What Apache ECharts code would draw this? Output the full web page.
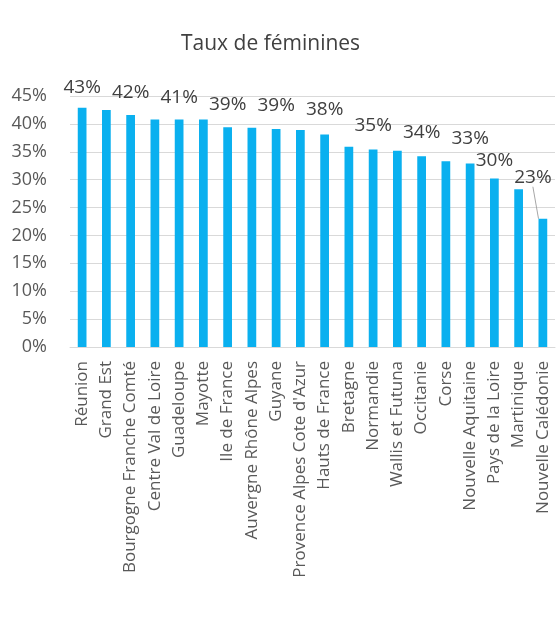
<!DOCTYPE html>
<html>
<head>
<meta charset="utf-8">
<script src="https://cdn.jsdelivr.net/npm/echarts@6/dist/echarts.min.js"></script>
<style>
  html, body { margin: 0; padding: 0; background: #fff; }
  #chart { width: 558px; height: 622px; }
</style>
</head>
<body>
<div id="chart"></div>
<script>
var regions = [
    "Réunion", "Grand Est", "Bourgogne Franche Comté", "Centre Val de Loire",
    "Guadeloupe", "Mayotte", "Ile de France", "Auvergne Rhône Alpes", "Guyane",
    "Provence Alpes Cote d'Azur", "Hauts de France", "Bretagne", "Normandie",
    "Wallis et Futuna", "Occitanie", "Corse", "Nouvelle Aquitaine",
    "Pays de la Loire", "Martinique", "Nouvelle Calédonie"
];
var tauxFeminines = [
    0.429, 0.425, 0.416, 0.408, 0.408, 0.408, 0.394, 0.393, 0.391, 0.389,
    0.381, 0.359, 0.354, 0.352, 0.342, 0.333, 0.329, 0.302, 0.283, 0.230
];
var yTicks = [0, 0.05, 0.10, 0.15, 0.20, 0.25, 0.30, 0.35, 0.40, 0.45];
// only some bars carry a value label in the original
var labelled = [
    "Réunion", "Bourgogne Franche Comté", "Guadeloupe", "Ile de France",
    "Guyane", "Hauts de France", "Normandie", "Occitanie", "Nouvelle Aquitaine",
    "Pays de la Loire", "Nouvelle Calédonie"
];

// label nudges (layout only)
var nudge = {
    "Réunion": [0, -7], "Bourgogne Franche Comté": [0, -9], "Guadeloupe": [0, -8],
    "Ile de France": [0, -9], "Guyane": [0, -10], "Hauts de France": [0, -11],
    "Normandie": [0, -10], "Occitanie": [0, -10], "Nouvelle Aquitaine": [0, -11],
    "Pays de la Loire": [0, -4], "Nouvelle Calédonie": [-10, -28]
};

var barData = tauxFeminines.map(function(v, i) {
    var name = regions[i];
    var item = { value: v };
    if (labelled.indexOf(name) < 0) {
        item.label = { show: false };
    } else if (name === "Nouvelle Calédonie") {
        item.labelLine = { show: true };
    }
    return item;
});

var myChart = echarts.init(document.getElementById('chart'));
myChart.setOption({
    animation: false,
    textStyle: { fontFamily: 'Open Sans' },
    title: {
        text: 'Taux de féminines',
        left: 176,
        top: 29,
        textStyle: { fontSize: 21, fontWeight: 'normal', color: '#404040', fontFamily: 'Open Sans' }
    },
    grid: { left: 70, right: 3, top: 96, bottom: 275, containLabel: false },
    xAxis: {
        type: 'category',
        data: regions,
        axisTick: { show: false },
        axisLine: { lineStyle: { color: '#d9d9d9' } },
        axisLabel: {
            rotate: 90,
            interval: 0,
            margin: 14,
            fontSize: 17,
            padding: [8, 0, 0, 0],
            color: '#595959'
        }
    },
    yAxis: {
        type: 'value',
        min: yTicks[0],
        max: yTicks[yTicks.length - 1],
        interval: 0.05,
        axisLine: { show: false },
        axisTick: { show: false },
        splitLine: { lineStyle: { color: '#d9d9d9' } },
        axisLabel: {
            fontSize: 18,
            color: '#595959',
            margin: 23,
            formatter: function(v) { return Math.round(v * 100) + '%'; }
        }
    },
    series: [{
        type: 'bar',
        data: barData,
        barWidth: '36%',
        itemStyle: { color: '#0ab0ef' },
        label: {
            show: true,
            position: 'top',
            distance: 4,
            fontSize: 19,
            color: '#404040',
            formatter: function(p) { return Math.round(p.value * 100) + '%'; }
        },
        labelLine: { show: false, lineStyle: { color: '#a6a6a6', width: 1 } },
        labelLayout: function(params) {
            var n = nudge[regions[params.dataIndex]];
            if (!n) return {};
            return { dx: n[0], dy: n[1] };
        }
    }]
});
</script>
</body>
</html>
